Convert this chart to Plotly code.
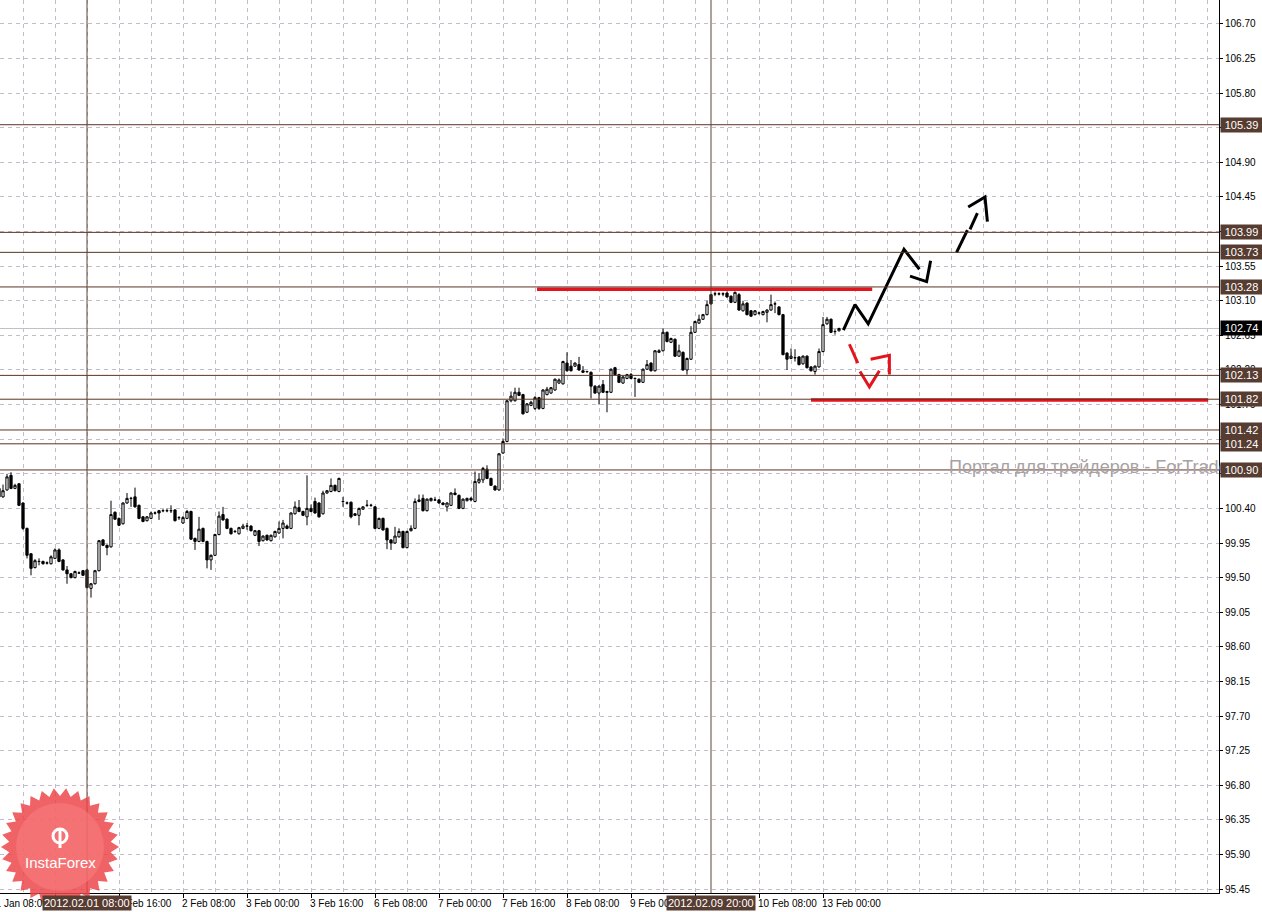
import math
from datetime import datetime, timedelta
import plotly.graph_objects as go

# ---------------- data (H1 candles, price) ----------------
opens = [100.66,100.55,100.64,100.83,100.66,100.72,100.47,100.14,99.81,99.63,
         99.71,99.71,99.69,99.68,99.75,99.86,99.73,99.60,99.55,99.50,
         99.56,99.59,99.60,99.36,99.42,99.59,99.99,99.92,99.90,100.35,
         100.27,100.20,100.47,100.53,100.55,100.44,100.29,100.24,100.27,100.34,
         100.37,100.37,100.37,100.37,100.38,100.28,100.21,100.27,100.36,100.01,
         99.97,100.14,99.97,99.73,99.79,100.06,100.32,100.26,100.14,100.10,
         100.07,100.14,100.17,100.17,100.05,100.11,99.98,100.05,99.98,100.03,
         100.08,100.14,100.17,100.14,100.33,100.41,100.36,100.29,100.40,100.49,
         100.47,100.33,100.60,100.62,100.70,100.62,100.49,100.47,100.48,100.33,
         100.31,100.39,100.44,100.44,100.42,100.14,100.27,100.14,99.99,99.95,
         100.03,100.10,99.89,100.11,100.14,100.49,100.53,100.37,100.50,100.51,
         100.51,100.47,100.42,100.44,100.60,100.57,100.40,100.50,100.53,100.49,
         100.74,100.77,100.91,100.79,100.69,100.64,101.12,101.27,101.80,101.80,
         101.91,101.88,101.65,101.74,101.70,101.84,101.70,101.88,101.90,101.94,
         102.03,102.02,102.29,102.25,102.25,102.27,102.19,102.18,102.17,101.99,
         101.90,102.01,101.92,101.91,102.23,102.14,102.03,102.09,102.14,102.09,
         102.08,102.04,102.21,102.29,102.19,102.43,102.45,102.69,102.56,102.60,
         102.38,102.43,102.20,102.34,102.69,102.81,102.86,102.92,103.18,103.19,
         103.19,103.19,103.20,103.16,103.08,103.18,102.97,103.07,102.97,102.92,
         102.94,102.92,102.95,102.98,103.06,103.02,102.92,102.42,102.35,102.36,
         102.37,102.28,102.38,102.24,102.18,102.24,102.44,102.80,102.86,102.70,
         102.71]
highs = [100.70,100.71,100.85,100.87,100.72,100.73,100.48,100.15,99.82,99.74,
         99.75,99.72,99.71,99.79,99.88,99.88,99.74,99.65,99.56,99.59,
         99.58,99.60,99.61,99.43,99.60,99.99,100.00,99.93,100.50,100.36,
         100.28,100.48,100.60,100.55,100.67,100.45,100.30,100.30,100.36,100.36,
         100.38,100.39,100.40,100.44,100.39,100.30,100.30,100.38,100.37,100.02,
         100.29,100.15,99.98,99.80,100.07,100.36,100.42,100.27,100.15,100.12,
         100.16,100.20,100.21,100.18,100.12,100.12,100.05,100.06,100.06,100.11,
         100.23,100.25,100.19,100.35,100.49,100.51,100.37,100.83,100.45,100.54,
         100.48,100.63,100.64,100.79,100.71,100.80,100.55,100.49,100.49,100.34,
         100.41,100.43,100.51,100.46,100.43,100.28,100.28,100.15,100.00,100.16,
         100.14,100.11,100.11,100.18,100.53,100.58,100.58,100.53,100.54,100.55,
         100.52,100.48,100.48,100.61,100.66,100.58,100.53,100.54,100.55,100.88,
         100.86,100.94,100.96,100.80,100.70,101.12,101.31,101.81,101.92,101.97,
         101.97,101.89,101.77,101.80,101.86,101.85,101.95,101.98,101.98,102.09,
         102.09,102.32,102.43,102.33,102.30,102.37,102.25,102.19,102.18,102.00,
         102.00,102.07,101.93,102.22,102.24,102.15,102.12,102.15,102.16,102.10,
         102.09,102.22,102.33,102.30,102.46,102.47,102.74,102.70,102.62,102.61,
         102.53,102.44,102.36,102.77,102.84,102.92,102.93,103.10,103.19,103.22,
         103.21,103.21,103.22,103.17,103.22,103.20,103.10,103.08,102.98,102.98,
         102.96,102.97,102.99,103.18,103.09,103.03,102.93,102.43,102.48,102.47,
         102.38,102.39,102.39,102.25,102.26,102.48,102.89,102.89,102.87,102.73,
         102.75]
lows = [100.50,100.54,100.63,100.65,100.65,100.43,100.12,99.75,99.53,99.62,
        99.66,99.67,99.67,99.67,99.74,99.70,99.59,99.42,99.49,99.49,
        99.55,99.52,99.36,99.24,99.41,99.58,99.91,99.79,99.89,100.25,
        100.17,100.19,100.46,100.42,100.41,100.26,100.22,100.23,100.26,100.32,
        100.25,100.35,100.35,100.34,100.23,100.25,100.20,100.26,99.99,99.86,
        99.96,99.96,99.62,99.60,99.78,100.05,100.24,100.13,100.06,100.08,
        100.06,100.13,100.12,100.10,100.04,99.91,99.97,99.98,99.97,100.02,
        100.07,100.01,100.13,100.13,100.32,100.35,100.30,100.18,100.35,100.33,
        100.28,100.32,100.59,100.61,100.62,100.61,100.42,100.45,100.27,100.30,
        100.18,100.38,100.42,100.42,100.13,100.13,100.11,99.87,99.86,99.94,
        100.02,99.88,99.88,100.10,100.13,100.48,100.36,100.36,100.49,100.50,
        100.46,100.44,100.36,100.43,100.57,100.39,100.39,100.49,100.49,100.48,
        100.72,100.73,100.78,100.69,100.63,100.63,101.11,101.26,101.78,101.79,
        101.86,101.62,101.64,101.73,101.68,101.68,101.69,101.87,101.89,101.93,
        102.02,102.01,102.18,102.18,102.24,102.19,102.16,102.16,101.83,101.89,
        101.75,101.90,101.65,101.90,102.13,102.03,102.02,102.08,102.08,101.85,
        102.03,102.03,102.20,102.18,102.18,102.42,102.44,102.56,102.55,102.37,
        102.37,102.19,102.14,102.33,102.68,102.80,102.85,102.91,103.05,103.16,
        103.17,103.16,103.14,103.07,103.07,102.97,102.96,102.91,102.89,102.91,
        102.92,102.91,102.82,102.97,102.94,102.91,102.39,102.20,102.34,102.31,
        102.26,102.27,102.22,102.18,102.14,102.23,102.43,102.79,102.68,102.66,
        102.70]
closes = [100.55,100.63,100.81,100.66,100.70,100.44,100.14,99.79,99.62,99.72,
          99.71,99.68,99.69,99.77,99.86,99.71,99.60,99.55,99.50,99.58,
          99.56,99.53,99.37,99.42,99.59,99.98,99.92,99.89,100.32,100.26,
          100.18,100.47,100.53,100.53,100.42,100.27,100.23,100.29,100.34,100.34,
          100.34,100.37,100.37,100.37,100.24,100.28,100.28,100.36,100.00,99.97,
          100.13,99.97,99.73,99.79,100.06,100.30,100.25,100.14,100.07,100.10,
          100.15,100.17,100.17,100.11,100.11,99.97,100.04,99.99,100.05,100.10,
          100.14,100.21,100.14,100.34,100.42,100.36,100.31,100.40,100.36,100.34,
          100.29,100.60,100.63,100.70,100.63,100.79,100.49,100.47,100.29,100.31,
          100.40,100.42,100.44,100.44,100.14,100.27,100.12,99.99,99.95,100.04,
          100.10,99.89,100.10,100.14,100.49,100.51,100.37,100.52,100.53,100.51,
          100.47,100.45,100.47,100.60,100.58,100.40,100.52,100.53,100.51,100.75,
          100.78,100.92,100.79,100.70,100.64,101.11,101.27,101.80,101.86,101.91,
          101.87,101.63,101.76,101.78,101.84,101.70,101.94,101.95,101.97,102.08,
          102.07,102.31,102.19,102.19,102.29,102.20,102.17,102.18,101.99,101.90,
          101.99,101.91,101.91,102.21,102.14,102.04,102.11,102.14,102.09,102.09,
          102.04,102.21,102.27,102.19,102.45,102.45,102.69,102.57,102.61,102.38,
          102.45,102.20,102.35,102.69,102.83,102.86,102.92,103.05,103.06,103.19,
          103.19,103.19,103.15,103.08,103.21,102.98,103.06,102.92,102.90,102.97,
          102.94,102.96,102.98,103.05,103.06,102.92,102.40,102.34,102.38,102.36,
          102.27,102.38,102.23,102.19,102.25,102.44,102.79,102.86,102.69,102.70,
          102.74]

first_bar_time = "2012-01-31 10:00"

# horizontal price levels (brown lines with price boxes)
level_prices = [105.39, 103.99, 103.73, 103.28, 102.13, 101.82, 101.42, 101.24, 100.90]
bid_price = 102.74

# vertical time markers
marker_times = ["2012.02.01 08:00", "2012.02.09 20:00"]

# x-axis labels (every 16 bars); the ones fully hidden under the marker boxes get no text
tick_labels = ["31 Jan 08:00", "1 Feb 00:00", "1 Feb 16:00", "2 Feb 08:00", "3 Feb 00:00",
               "3 Feb 16:00", "6 Feb 08:00", "7 Feb 00:00", "7 Feb 16:00", "8 Feb 08:00",
               "9 Feb 00:00", "9 Feb 16:00", "10 Feb 08:00", "13 Feb 00:00"]
hidden_tick_labels = ["1 Feb 00:00", "9 Feb 16:00"]

# price-axis labels fully hidden under the level boxes
hidden_price_labels = [105.35, 104.00, 101.30, 100.85]

# hand-drawn forecast marks (bar index, price)
red_upper_x = [134.5, 218.3]
red_upper_y = [103.25, 103.25]
red_lower_x = [203.0, 302.3]
red_lower_y = [101.81, 101.81]
black_solid_x = [211.1, 214.0, 217.3, 226.25, 230.1, None, 227.75, 231.9, 232.9]
black_solid_y = [102.72, 103.05, 102.80, 103.77, 103.51, None, 103.42, 103.35, 103.62]
black_dash_x = [239.4, 242.1, None, 242.75, 244.6, None, 242.3, 246.5, 247.1]
black_dash_y = [103.73, 104.02, None, 104.03, 104.24, None, 104.32, 104.45, 104.13]
red_dash_x = [212.6, 214.7, None, 215.25, 217.6, 220.1, None, 217.9, 222.6, 222.6]
red_dash_y = [102.535, 102.29, None, 102.18, 101.98, 102.19, None, 102.34, 102.39, 102.14]

watermark = "Портал для трейдеров - ForTrader"

# ---------------- trading-hour timeline ----------------
def trading_hours(start, count):
    out, t = [], start
    while len(out) < count:
        if t.weekday() < 5:
            out.append(t)
        t += timedelta(hours=1)
    return out

t0 = datetime.strptime(first_bar_time, "%Y-%m-%d %H:%M")
timeline = trading_hours(t0 - timedelta(hours=2), 330)
OFFSET = 2  # timeline position of first bar
def idx_of_label(lbl):
    for i, t in enumerate(timeline):
        if f"{t.day} {t.strftime('%b %H:%M')}" == lbl:
            return i - OFFSET
    return None
def idx_of_marker(lbl):
    for i, t in enumerate(timeline):
        if t.strftime("%Y.%m.%d %H:%M") == lbl:
            return i - OFFSET
    return None

n = len(closes)
xs = list(range(n))
hover_times = [timeline[i + OFFSET].strftime("%Y.%m.%d %H:%M") for i in xs]

FONT = "Liberation Sans, Arial, sans-serif"
LEVEL_COLOR = "#5b3322"
BOX_COLOR = "#573c31"
VLINE_COLOR = "#5e4434"
GRID_COLOR = "#c4bccc"
RED = "#e5141c"

W, H = 1262, 912
ML, MR, MT, MB = 0, 43, 0, 19
PW, PH = W - ML - MR, H - MT - MB
X0 = 0.25                # bar index at the left edge
PX_PER_BAR = 4.0
def xpaper(idx):
    return (idx - X0) * PX_PER_BAR / PW

fig = go.Figure()
fig.add_trace(go.Candlestick(
    x=xs, open=opens, high=highs, low=lows, close=closes, text=hover_times,
    increasing=dict(line=dict(color="black", width=1), fillcolor="white"),
    decreasing=dict(line=dict(color="black", width=1), fillcolor="black"),
    whiskerwidth=0, showlegend=False))

for xv, yv in [(red_upper_x, red_upper_y), (red_lower_x, red_lower_y)]:
    fig.add_trace(go.Scatter(x=xv, y=yv, mode="lines", line=dict(color=RED, width=3.5),
                             showlegend=False, hoverinfo="skip"))
fig.add_trace(go.Scatter(x=black_solid_x, y=black_solid_y, mode="lines",
                         line=dict(color="black", width=3), showlegend=False, hoverinfo="skip"))
fig.add_trace(go.Scatter(x=black_dash_x, y=black_dash_y, mode="lines",
                         line=dict(color="black", width=3), showlegend=False, hoverinfo="skip"))
fig.add_trace(go.Scatter(x=red_dash_x, y=red_dash_y, mode="lines",
                         line=dict(color=RED, width=3), showlegend=False, hoverinfo="skip"))

shapes = []
for p in level_prices:
    shapes.append(dict(type="line", xref="paper", x0=0, x1=1, yref="y", y0=p, y1=p,
                       line=dict(color=LEVEL_COLOR, width=1), layer="above"))
shapes.append(dict(type="line", xref="paper", x0=0, x1=1, yref="y", y0=bid_price, y1=bid_price,
                   line=dict(color="#c0c0c0", width=1), layer="below"))
marker_idx = [idx_of_marker(m) for m in marker_times]
for mi in marker_idx:
    shapes.append(dict(type="line", xref="x", x0=mi, x1=mi, yref="paper", y0=0, y1=1,
                       line=dict(color=VLINE_COLOR, width=1), layer="above"))

# InstaForex badge (decorative seal)
cx, cy, r_out, r_in, spikes = 60, 847, 59, 51, 30
pts = []
for k in range(spikes * 2):
    r = r_out if k % 2 == 0 else r_in
    a = math.pi * k / spikes
    px, py = cx + r * math.cos(a), cy + r * math.sin(a)
    pts.append(f"{px / PW:.5f},{(PH - py) / PH:.5f}")
path = "M " + " L ".join(pts) + " Z"
shapes.append(dict(type="path", xref="paper", yref="paper", path=path,
                   fillcolor="rgba(236,70,74,0.85)", line=dict(width=0), layer="above"))
shapes.append(dict(type="circle", xref="paper", yref="paper",
                   x0=(cx - 44) / PW, x1=(cx + 44) / PW, y0=(PH - cy - 44) / PH, y1=(PH - cy + 44) / PH,
                   fillcolor="rgba(246,125,125,0.6)", line=dict(width=0), layer="above"))
# icon
shapes.append(dict(type="circle", xref="paper", yref="paper",
                   x0=(cx - 7) / PW, x1=(cx + 7) / PW, y0=(PH - 836 - 7) / PH, y1=(PH - 836 + 7) / PH,
                   fillcolor="rgba(0,0,0,0)", line=dict(color="white", width=3), layer="above"))
shapes.append(dict(type="line", xref="paper", yref="paper",
                   x0=cx / PW, x1=cx / PW, y0=(PH - 828) / PH, y1=(PH - 848) / PH,
                   line=dict(color="white", width=3), layer="above"))

annotations = []
annotations.append(dict(xref="paper", yref="paper", x=947 / PW, y=(PH - 467) / PH,
                        xanchor="left", yanchor="middle", text=watermark, showarrow=False,
                        font=dict(family=FONT, size=18, color="#a8a2a2")))
annotations.append(dict(xref="paper", yref="paper", x=cx / PW, y=(PH - 862) / PH,
                        xanchor="center", yanchor="middle", text="InstaForex", showarrow=False,
                        font=dict(family=FONT, size=15, color="white")))

for p in level_prices:
    annotations.append(dict(xref="paper", yref="y", x=1, y=p, xanchor="left", yanchor="middle",
                            xshift=1, text=f"{p:.2f}", showarrow=False, bgcolor=BOX_COLOR,
                            borderpad=1, width=39, align="center",
                            font=dict(family=FONT, size=11, color="white")))
annotations.append(dict(xref="paper", yref="y", x=1, y=bid_price, xanchor="left", yanchor="middle",
                        xshift=1, text=f"{bid_price:.2f}", showarrow=False, bgcolor="black",
                        borderpad=1, width=39, align="center",
                        font=dict(family=FONT, size=11, color="white")))

tick_idx = [idx_of_label(l) for l in tick_labels]
for ti, tl in zip(tick_idx, tick_labels):
    if tl in hidden_tick_labels:
        continue
    annotations.append(dict(xref="paper", yref="paper", x=xpaper(ti), y=0, xanchor="left",
                            yanchor="top", xshift=-3, yshift=-3, text=tl, showarrow=False,
                            font=dict(family=FONT, size=10, color="black")))
for mi, mt in zip(marker_idx, marker_times):
    annotations.append(dict(xref="paper", yref="paper", x=xpaper(mi), y=0, xanchor="center",
                            yanchor="top", yshift=-2, text=mt, showarrow=False,
                            bgcolor=BOX_COLOR, borderpad=1,
                            font=dict(family=FONT, size=11, color="white")))

y_ticks = [round(95.45 + 0.45 * k, 2) for k in range(26)]
y_text = ["" if v in hidden_price_labels else f"{v:.2f}" for v in y_ticks]

fig.update_layout(
    width=W, height=H, margin=dict(l=ML, r=MR, t=MT, b=MB, pad=0),
    paper_bgcolor="white", plot_bgcolor="white", boxgap=0.2,
    shapes=shapes, annotations=annotations, showlegend=False,
    xaxis=dict(range=[X0, X0 + PW / PX_PER_BAR], rangeslider=dict(visible=False),
               tickmode="array", tickvals=tick_idx, showticklabels=False,
               ticks="outside", ticklen=4, tickcolor="black",
               showgrid=False, zeroline=False, showline=True, linecolor="black", linewidth=1,
               minor=dict(tickmode="linear", tick0=6, dtick=8, showgrid=True,
                          gridcolor=GRID_COLOR, griddash="4px,4px", gridwidth=1, ticks="")),
    yaxis=dict(range=[95.398, 107.012], side="right", tickmode="array", tickvals=y_ticks,
               ticktext=y_text, ticks="outside", ticklen=3,
               tickcolor="black", showgrid=True, gridcolor=GRID_COLOR, griddash="4px,4px",
               gridwidth=1, zeroline=False, showline=True, linecolor="black", linewidth=1,
               tickfont=dict(family=FONT, size=10, color="black")),
    hovermode=False,
)

fig.write_html("out.html", config={"displayModeBar": False},
               post_script="document.body.style.margin='0';document.body.style.overflow='hidden';")
